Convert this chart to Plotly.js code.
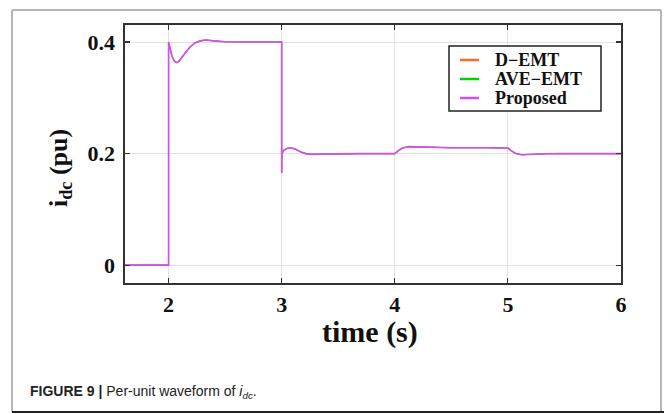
<!DOCTYPE html>
<html>
<head>
<meta charset="utf-8">
<script src="https://cdn.plot.ly/plotly-3.0.1.min.js"></script>
<style>html,body{margin:0;padding:0;background:#fff;}#chart{width:664px;height:414px;}</style>
</head>
<body>
<div id="chart"></div>
<script>
// time (s)
const timeS = [1.615, 2.0, 2.0, 2.01, 2.03, 2.05, 2.07, 2.09, 2.12, 2.15, 2.19, 2.23, 2.28, 2.33, 2.4, 2.5, 2.7,
  3.0, 3.0, 3.002, 3.02, 3.05, 3.08, 3.12, 3.17, 3.22, 3.28, 3.35, 3.5, 3.7,
  4.0, 4.03, 4.07, 4.12, 4.2, 4.3, 4.5, 4.8,
  5.0, 5.03, 5.07, 5.12, 5.18, 5.25, 5.35, 5.5, 6.0];
// i_dc (pu) per series
const dEmt = [0, 0, 0.400, 0.392, 0.375, 0.366, 0.363, 0.365, 0.372, 0.381, 0.391, 0.398, 0.402, 0.4035, 0.402, 0.4005, 0.400,
  0.400, 0.165, 0.200, 0.206, 0.2095, 0.2104, 0.208, 0.203, 0.1995, 0.1985, 0.199, 0.1995, 0.200,
  0.200, 0.205, 0.210, 0.2125, 0.2122, 0.211, 0.2105, 0.2105,
  0.210, 0.205, 0.200, 0.198, 0.1985, 0.1993, 0.1998, 0.200, 0.200];
const aveEmt = [0, 0, 0.400, 0.392, 0.375, 0.366, 0.363, 0.365, 0.372, 0.381, 0.391, 0.398, 0.402, 0.4035, 0.402, 0.4005, 0.400,
  0.400, 0.165, 0.200, 0.206, 0.2095, 0.2104, 0.208, 0.203, 0.1995, 0.1985, 0.199, 0.1995, 0.200,
  0.200, 0.205, 0.210, 0.2125, 0.2122, 0.211, 0.2105, 0.2105,
  0.210, 0.205, 0.200, 0.198, 0.1985, 0.1993, 0.1998, 0.200, 0.200];
const proposed = [0, 0, 0.400, 0.392, 0.375, 0.366, 0.363, 0.365, 0.372, 0.381, 0.391, 0.398, 0.402, 0.4035, 0.402, 0.4005, 0.400,
  0.400, 0.165, 0.200, 0.206, 0.2095, 0.2104, 0.208, 0.203, 0.1995, 0.1985, 0.199, 0.1995, 0.200,
  0.200, 0.205, 0.210, 0.2125, 0.2122, 0.211, 0.2105, 0.2105,
  0.210, 0.205, 0.200, 0.198, 0.1985, 0.1993, 0.1998, 0.200, 0.200];
const seriesNames = ['D\u2212EMT', 'AVE\u2212EMT', 'Proposed'];
const xTickVals = [2, 3, 4, 5, 6];
const xTickText = ['2', '3', '4', '5', '6'];
const yTickVals = [0, 0.2, 0.4];
const yTickText = ['0', '0.2', '0.4'];

const serif = 'Liberation Serif, Times New Roman, serif';
const colors = ['#ff6a2b', '#00d100', '#d94cf5'];
const widths = [1.1, 1.1, 1.6];
const ys = [dEmt, aveEmt, proposed];
const traces = ys.map((y, i) => ({
  x: timeS, y: y, type: 'scatter', mode: 'lines', name: seriesNames[i],
  showlegend: false,
  line: {color: colors[i], width: widths[i]}
}));

const L = 125, R = 621, T = 25, B = 283;
const px = v => (v - L) / (R - L);
const py = v => (B - v) / (B - T);

const shapes = [
  {type: 'line', xref: 'paper', yref: 'paper', x0: px(12), x1: px(12), y0: py(10), y1: py(412), line: {color: '#b5b5b5', width: 2}},
  {type: 'line', xref: 'paper', yref: 'paper', x0: px(12), x1: px(661), y0: py(10), y1: py(10), line: {color: '#b5b5b5', width: 2}},
  {type: 'line', xref: 'paper', yref: 'paper', x0: px(661), x1: px(661), y0: py(10), y1: py(412), line: {color: '#b5b5b5', width: 2}},
  {type: 'line', xref: 'paper', yref: 'paper', x0: px(12), x1: px(664), y0: py(412), y1: py(412), line: {color: '#222', width: 2}},
  // legend box
  {type: 'rect', xref: 'paper', yref: 'paper', x0: px(449), x1: px(601), y0: py(46), y1: py(111),
   fillcolor: '#fff', line: {color: '#222', width: 1.5}}
];
const legendRows = [60, 79, 98];
const annotations = [];
seriesNames.forEach((n, i) => {
  shapes.push({type: 'line', xref: 'paper', yref: 'paper', x0: px(460), x1: px(479),
    y0: py(legendRows[i]), y1: py(legendRows[i]), line: {color: colors[i], width: 2.5}});
  annotations.push({xref: 'paper', yref: 'paper', x: px(493), y: py(legendRows[i]),
    xanchor: 'left', yanchor: 'middle', showarrow: false, text: n,
    font: {family: serif, size: 18, color: '#111', weight: 'bold'}});
});
annotations.push({
  xref: 'paper', yref: 'paper', x: px(370), y: py(332), xanchor: 'center', yanchor: 'middle',
  showarrow: false, text: 'time (s)',
  font: {family: serif, size: 30, color: '#111', weight: 'bold'}
});
annotations.push({
  xref: 'paper', yref: 'paper', x: px(60), y: py(168), xanchor: 'center', yanchor: 'middle',
  showarrow: false, textangle: -90, text: 'i<sub>dc</sub> (pu)',
  font: {family: serif, size: 26, color: '#111', weight: 'bold'}
});
annotations.push({
  xref: 'paper', yref: 'paper', x: px(28), y: py(392), xanchor: 'left', yanchor: 'middle',
  showarrow: false, align: 'left',
  text: '<b>FIGURE 9 |</b> Per-unit waveform of <i>i</i><sub><i>dc</i></sub>.',
  font: {family: 'Liberation Sans, Arial, sans-serif', size: 14, color: '#222'}
});

const layout = {
  width: 664, height: 414,
  margin: {l: L, r: 664 - R, t: T, b: 414 - B},
  paper_bgcolor: '#fff', plot_bgcolor: '#fff',
  showlegend: false,
  xaxis: {
    range: [1.615, 6.0], tickvals: xTickVals, ticktext: xTickText,
    ticks: 'inside', ticklen: 5, tickwidth: 1.2, tickcolor: '#333',
    showline: true, linecolor: '#333', linewidth: 1.6, mirror: 'ticks',
    showgrid: true, gridcolor: '#e2e2e2', gridwidth: 1, zeroline: false,
    tickfont: {family: serif, size: 22, color: '#111', weight: 'bold'},
    ticklabelstandoff: 1
  },
  yaxis: {
    range: [-0.032, 0.4305], tickvals: yTickVals, ticktext: yTickText,
    ticks: 'inside', ticklen: 5, tickwidth: 1.2, tickcolor: '#333',
    showline: true, linecolor: '#333', linewidth: 1.6, mirror: 'ticks',
    showgrid: true, gridcolor: '#e2e2e2', gridwidth: 1, zeroline: false,
    tickfont: {family: serif, size: 22, color: '#111', weight: 'bold'},
    ticklabelstandoff: 4
  },
  shapes: shapes,
  annotations: annotations
};

Plotly.newPlot('chart', traces, layout, {displayModeBar: false, staticPlot: true});
</script>
</body>
</html>
